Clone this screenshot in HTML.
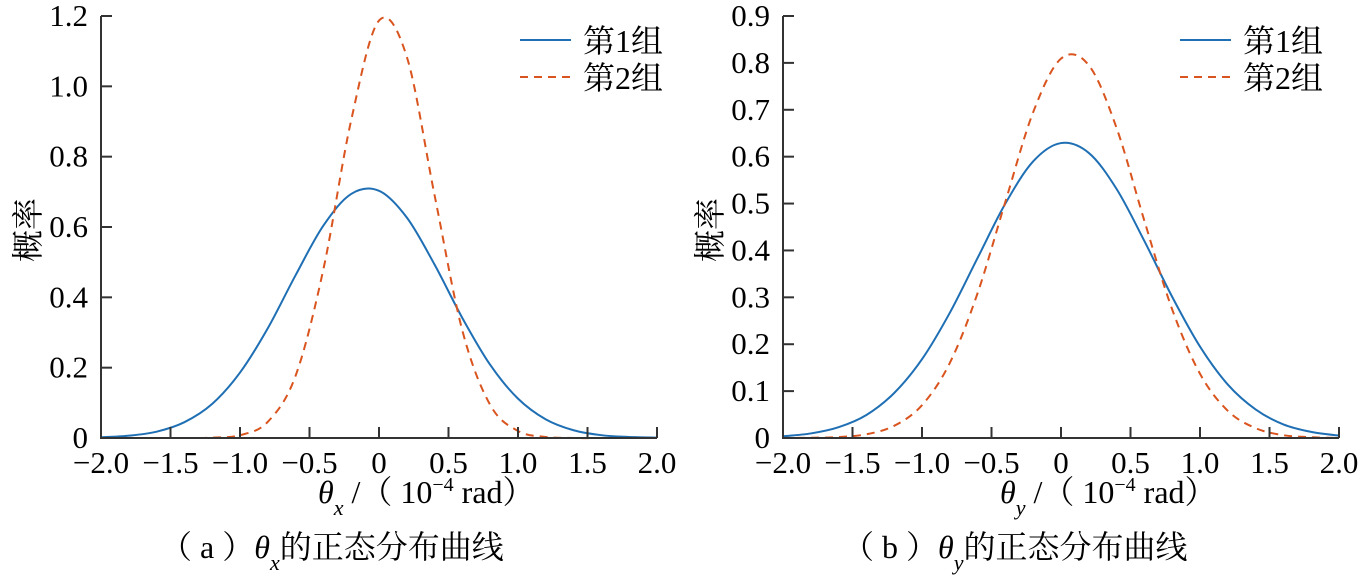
<!DOCTYPE html>
<html><head><meta charset="utf-8"><style>
body{margin:0;background:#fff;}
svg{display:block;font-family:"Liberation Serif","Noto Serif CJK SC",serif;}
</style></head><body>
<svg id="c" width="1363" height="581" viewBox="0 0 1363 581"></svg>
<script>
const xs = [-2.0,-1.8,-1.6,-1.4,-1.2,-1.0,-0.8,-0.6,-0.4,-0.2,0,0.2,0.4,0.6,0.8,1.0,1.2,1.4,1.6,1.8,2.0];
const xTicks = [-2.0,-1.5,-1.0,-0.5,0,0.5,1.0,1.5,2.0];
const xTickLabels = ["\u22122.0","\u22121.5","\u22121.0","\u22120.5","0","0.5","1.0","1.5","2.0"];
const aGroup1 = [0.002,0.0066,0.018,0.045,0.097,0.186,0.312,0.463,0.604,0.694,0.703,0.627,0.493,0.341,0.208,0.112,0.053,0.022,0.008,0.003,0.001];
const aGroup2 = [0,0,0,0,0.001,0.008,0.046,0.177,0.480,0.904,1.187,1.084,0.690,0.305,0.094,0.020,0.003,0,0,0,0];
const aYTicks = [0,0.2,0.4,0.6,0.8,1.0,1.2];
const aYTickLabels = ["0","0.2","0.4","0.6","0.8","1.0","1.2"];
const bGroup1 = [0.0037,0.0097,0.023,0.049,0.096,0.168,0.267,0.384,0.500,0.590,0.629,0.608,0.531,0.420,0.301,0.195,0.114,0.061,0.029,0.013,0.005];
const bGroup2 = [0,0.0005,0.002,0.008,0.026,0.070,0.160,0.309,0.504,0.695,0.809,0.795,0.661,0.463,0.274,0.137,0.058,0.021,0.006,0.0016,0];
const bYTicks = [0,0.1,0.2,0.3,0.4,0.5,0.6,0.7,0.8,0.9];
const bYTickLabels = ["0","0.1","0.2","0.3","0.4","0.5","0.6","0.7","0.8","0.9"];
const legendLabels = ["第1组","第2组"];

const NS="http://www.w3.org/2000/svg";
const svg=document.getElementById('c');
function mk(tag,attrs,parent){const e=document.createElementNS(NS,tag);for(const k in attrs)e.setAttribute(k,attrs[k]);(parent||svg).appendChild(e);return e;}
function smooth(pts){let d="M"+pts[0][0]+","+pts[0][1];for(let i=0;i<pts.length-1;i++){const p0=pts[i-1]||pts[i],p1=pts[i],p2=pts[i+1],p3=pts[i+2]||p2;
const c1=[p1[0]+(p2[0]-p0[0])/6,p1[1]+(p2[1]-p0[1])/6],c2=[p2[0]-(p3[0]-p1[0])/6,p2[1]-(p3[1]-p1[1])/6];
d+=" C"+c1[0].toFixed(2)+","+c1[1].toFixed(2)+" "+c2[0].toFixed(2)+","+c2[1].toFixed(2)+" "+p2[0].toFixed(2)+","+p2[1].toFixed(2);}return d;}

function panel(o){
  const g=mk('g',{});
  
  
  const X=v=>o.x0+(v+2)/4*(o.x1-o.x0);
  const Y=v=>o.y0-v/o.ymax*(o.y0-o.y1);
  const cols=["#1f6fb4","#d9541e"];
  [o.s1,o.s2].forEach((s,i)=>{
    const p=mk('path',{d:smooth(xs.map((x,j)=>[X(x),Y(s[j])])),fill:'none',stroke:cols[i],'stroke-width':2,'stroke-dasharray':i?'8,6':'none'},g);
    
    
  });
  const ax=mk('path',{d:`M${o.x0},${o.y1} V${o.y0} H${o.x1}`,fill:'none',stroke:'#333','stroke-width':2},g);
  
  
  xTicks.forEach((t,i)=>{
    mk('line',{x1:X(t),x2:X(t),y1:o.y0,y2:o.y0-11,stroke:'#333','stroke-width':2},g);
    const tx=mk('text',{x:X(t),y:o.y0+35,'font-size':31,'text-anchor':'middle'},g);tx.textContent=xTickLabels[i];
    
    
  });
  o.yt.forEach((t,i)=>{
    mk('line',{x1:o.x0,x2:o.x0+11,y1:Y(t),y2:Y(t),stroke:'#333','stroke-width':2},g);
    const tx=mk('text',{x:o.x0-13,y:Y(t)+10,'font-size':31,'text-anchor':'end'},g);tx.textContent=o.ytl[i];
    
    
  });
  const yt=mk('text',{x:0,y:0,'font-size':32,'text-anchor':'middle',transform:`translate(${o.x0-62},230) rotate(-90)`},g);yt.textContent='概率';
  
  
  const xt=mk('text',{x:o.x0+217,y:503,'font-size':32},g);
  xt.innerHTML=`<tspan font-style="italic">θ</tspan><tspan font-style="italic" font-size="22" dy="12">${o.sub}</tspan><tspan dy="-12"> /（ 10</tspan><tspan font-size="20" dy="-12">−4</tspan><tspan dy="12"> rad）</tspan>`;
  
  
  const cap=mk('text',{x:o.x0+59,y:558,'font-size':32},g);
  cap.innerHTML=`（ ${o.letter} ）<tspan font-style="italic">θ</tspan><tspan font-style="italic" font-size="22" dy="12">${o.sub}</tspan><tspan dy="-12">的正态分布曲线</tspan>`;
  
  
  legendLabels.forEach((l,i)=>{
    const ly=40+i*37;
    const le=mk('g',{},g);
    
    
    mk('line',{x1:o.lx,x2:o.lx+51,y1:ly,y2:ly,stroke:cols[i],'stroke-width':2,'stroke-dasharray':i?'8,6':'none'},le);
    const t=mk('text',{x:o.lx+63,y:ly+12,'font-size':32},le);t.textContent=l;
  });
}
panel({id:'panel-a',x0:101,x1:657,y0:438,y1:16,ymax:1.2,s1:aGroup1,s2:aGroup2,yt:aYTicks,ytl:aYTickLabels,sub:'x',letter:'a',lx:520});
panel({id:'panel-b',x0:783,x1:1339,y0:438,y1:16,ymax:0.9,s1:bGroup1,s2:bGroup2,yt:bYTicks,ytl:bYTickLabels,sub:'y',letter:'b',lx:1180});
</script>
</body></html>
